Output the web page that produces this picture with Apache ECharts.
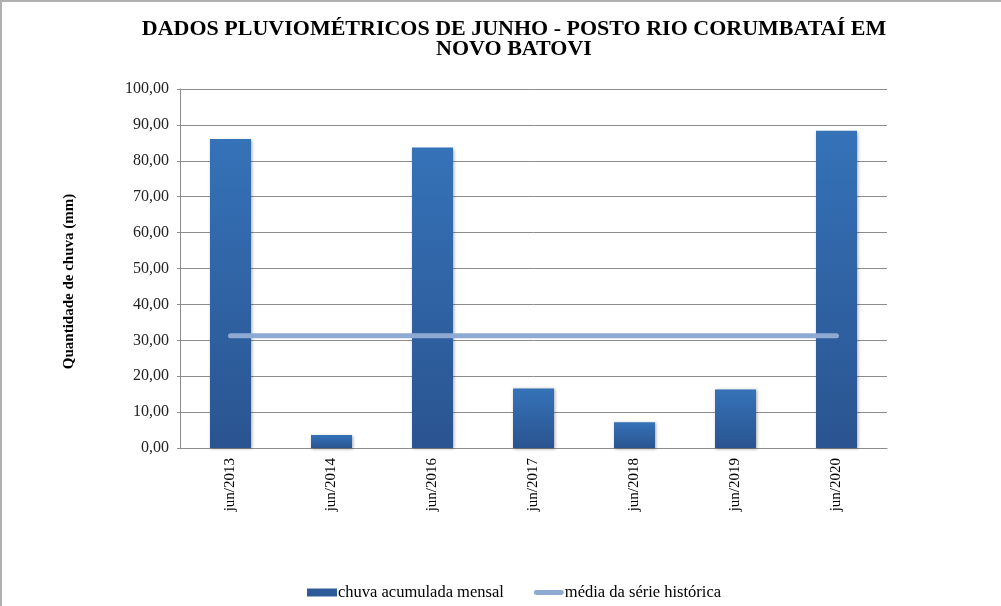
<!DOCTYPE html>
<html>
<head>
<meta charset="utf-8">
<script src="https://cdn.jsdelivr.net/npm/echarts@6/dist/echarts.min.js"></script>
<style>
  html, body { margin: 0; padding: 0; background: #fff; }
  #chart { width: 1001px; height: 606px; box-sizing: border-box; border-top: 2px solid #b0b0b0; border-left: 2px solid #b0b0b0; }
</style>
</head>
<body>
<div id="chart"></div>
<script>
// meses de junho
const categorias = ['jun/2013', 'jun/2014', 'jun/2016', 'jun/2017', 'jun/2018', 'jun/2019', 'jun/2020']
// chuva acumulada (mm)
const chuva = [86.1, 3.6, 83.7, 16.6, 7.2, 16.3, 88.4]
// média da série histórica
const media = [31.3, 31.3, 31.3, 31.3, 31.3, 31.3, 31.3]

const serif = '"Liberation Serif", "DejaVu Serif", serif'
const chart = echarts.init(document.getElementById('chart'))

const option = {
  animation: false,
  title: {
    text: 'DADOS PLUVIOMÉTRICOS DE JUNHO - POSTO RIO CORUMBATAÍ EM\nNOVO BATOVI',
    left: 507,
    top: 12,
    textAlign: 'center',
    textStyle: {
      fontFamily: serif,
      fontSize: 22,
      fontWeight: 'bold',
      color: '#000',
      lineHeight: 20
    }
  },
  grid: {
    left: 178,
    right: 114,
    top: 87,
    bottom: 158
  },
  legend: {
    left: 300,
    top: 577,
    itemGap: 30,
    itemWidth: 30,
    itemHeight: 8,
    textStyle: { fontFamily: serif, fontSize: 16.5, color: '#000', padding: [0, 0, 0, -4] },
    data: [
      { name: 'chuva acumulada mensal', icon: 'rect', itemStyle: { color: '#2d5b99' } },
      { name: 'média da série histórica', icon: 'path://M2,0 L28,0 A2.5,2.5 0 0 1 28,5 L2,5 A2.5,2.5 0 0 1 2,0 Z', itemStyle: { color: '#8eaad2' } }
    ]
  },
  xAxis: {
    type: 'category',
    data: categorias,
    axisLine: { lineStyle: { color: '#8c8c8c', width: 1 } },
    axisTick: { show: false },
    axisLabel: {
      rotate: 90,
      margin: 10,
      fontFamily: serif,
      fontSize: 15,
      color: '#000'
    }
  },
  yAxis: {
    type: 'value',
    min: 0,
    max: 100,
    interval: 10,
    name: 'Quantidade de chuva (mm)',
    nameLocation: 'middle',
    nameGap: 103,
    nameTextStyle: { fontFamily: serif, fontSize: 15, fontWeight: 'bold', color: '#000', padding: [0, 26, 0, 0] },
    axisLine: { show: true, lineStyle: { color: '#8c8c8c' } },
    axisTick: { show: true, length: 3, lineStyle: { color: '#8c8c8c' } },
    axisLabel: {
      margin: 11,
      fontFamily: serif,
      fontSize: 16,
      color: '#222',
      formatter: v => v.toFixed(2).replace('.', ',')
    },
    splitLine: { lineStyle: { color: '#8c8c8c', width: 1 } }
  },
  series: [
    {
      name: 'chuva acumulada mensal',
      type: 'bar',
      data: chuva,
      barWidth: 41,
      itemStyle: {
        color: new echarts.graphic.LinearGradient(0, 0, 0, 1, [
          { offset: 0, color: '#3572b8' },
          { offset: 1, color: '#2a5490' }
        ]),
        shadowColor: 'rgba(0,0,0,0.35)',
        shadowBlur: 3,
        shadowOffsetX: 1,
        shadowOffsetY: 1
      }
    },
    {
      name: 'média da série histórica',
      type: 'line',
      data: media,
      symbol: 'none',
      lineStyle: { color: '#8eaad2', width: 5, cap: 'round' },
      itemStyle: { color: '#8eaad2' },
      z: 3
    }
  ]
}
chart.setOption(option)
</script>
</body>
</html>
